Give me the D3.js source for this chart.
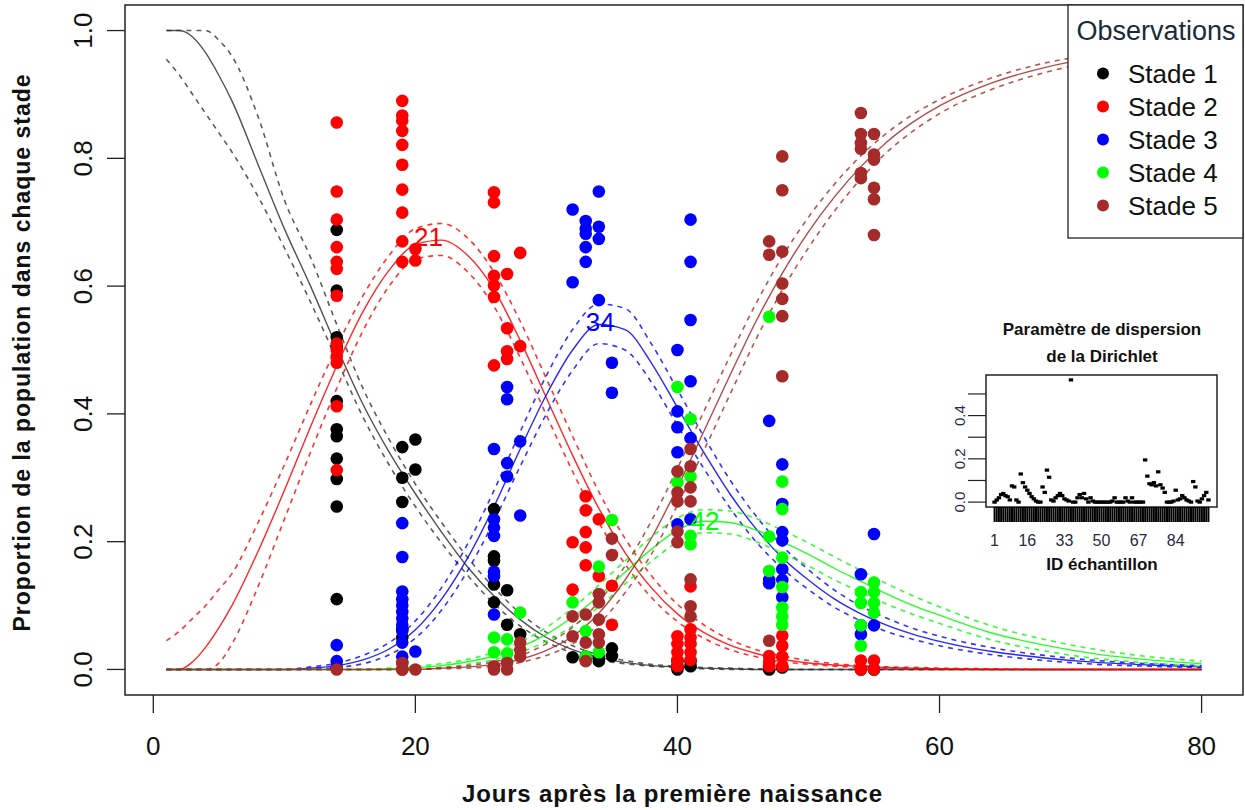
<!DOCTYPE html>
<html>
<head>
<meta charset="utf-8">
<script src="https://d3js.org/d3.v7.min.js"></script>
<style>
  html, body { margin: 0; padding: 0; background: #fff; }
  svg text { font-family: "Liberation Sans", Arial, sans-serif; fill: #111; }
</style>
</head>
<body>
<svg id="chart" width="1245" height="810"></svg>
<script>
// ---- data ----
var stageNames = ["Stade 1", "Stade 2", "Stade 3", "Stade 4", "Stade 5"];
var stageColors = ["#000000", "#FF0000", "#0000FF", "#00FF00", "#A52A2A"];
var xTicks = [0, 20, 40, 60, 80];
var yTicks = [0, 0.2, 0.4, 0.6, 0.8, 1.0];

// days at which the fitted curves were read
var curveDays = [1,2,3,4,5,6,8,10,12,14,16,18,20,22,24,26,28,30,32,34,36,38,40,42,44,46,48,50,52,54,56,58,60,64,68,72,76,80];

var fit1 = [1,1,0.99,0.965,0.93,0.89,0.79,0.69,0.6,0.505,0.415,0.34,0.275,0.215,0.16,0.115,0.078,0.05,0.031,0.019,0.011,0.006,0.004,0.002,0.001,0,0,0,0,0,0,0,0,0,0,0,0,0];
var hi1  = [1,1,1,1,0.985,0.96,0.865,0.735,0.645,0.54,0.44,0.36,0.29,0.23,0.175,0.128,0.088,0.058,0.037,0.023,0.014,0.008,0.005,0.003,0.002,0.001,0,0,0,0,0,0,0,0,0,0,0,0];
var lo1  = [0.955,0.93,0.9,0.87,0.84,0.81,0.74,0.66,0.575,0.485,0.395,0.32,0.255,0.198,0.147,0.103,0.068,0.043,0.026,0.015,0.009,0.005,0.003,0.001,0,0,0,0,0,0,0,0,0,0,0,0,0,0];

var fit2 = [0,0,0.012,0.035,0.065,0.1,0.185,0.28,0.38,0.475,0.56,0.625,0.665,0.672,0.648,0.595,0.515,0.425,0.335,0.252,0.183,0.128,0.087,0.058,0.038,0.025,0.016,0.01,0.007,0.005,0.003,0.002,0.001,0,0,0,0,0];
var hi2  = [0.045,0.06,0.08,0.1,0.125,0.15,0.23,0.32,0.415,0.505,0.585,0.648,0.69,0.698,0.675,0.622,0.545,0.455,0.365,0.278,0.205,0.147,0.102,0.07,0.047,0.031,0.021,0.014,0.009,0.006,0.004,0.003,0.002,0.001,0,0,0,0];
var lo2  = [0,0,0,0,0.01,0.04,0.13,0.235,0.34,0.44,0.53,0.6,0.642,0.648,0.622,0.568,0.488,0.398,0.31,0.23,0.165,0.113,0.075,0.049,0.031,0.02,0.012,0.008,0.005,0.003,0.002,0.001,0,0,0,0,0,0];

var fit3 = [0,0,0,0,0,0,0,0,0.002,0.006,0.015,0.032,0.062,0.11,0.175,0.255,0.345,0.43,0.5,0.54,0.532,0.48,0.41,0.34,0.275,0.22,0.175,0.14,0.11,0.087,0.069,0.055,0.044,0.028,0.018,0.011,0.007,0.004];
var hi3  = [0,0,0,0,0,0,0,0,0.004,0.01,0.022,0.042,0.076,0.128,0.197,0.28,0.372,0.46,0.532,0.572,0.565,0.51,0.438,0.365,0.297,0.24,0.193,0.156,0.124,0.099,0.08,0.064,0.052,0.034,0.022,0.014,0.009,0.006];
var lo3  = [0,0,0,0,0,0,0,0,0.001,0.003,0.009,0.023,0.049,0.093,0.155,0.232,0.318,0.4,0.468,0.51,0.5,0.45,0.382,0.315,0.253,0.2,0.158,0.125,0.097,0.076,0.059,0.047,0.037,0.023,0.014,0.008,0.005,0.003];

var fit4 = [0,0,0,0,0,0,0,0,0,0,0,0.001,0.003,0.006,0.012,0.021,0.035,0.055,0.082,0.115,0.152,0.188,0.218,0.232,0.23,0.218,0.2,0.18,0.158,0.138,0.118,0.1,0.085,0.057,0.038,0.024,0.015,0.009];
var hi4  = [0,0,0,0,0,0,0,0,0,0,0,0.002,0.005,0.009,0.016,0.027,0.043,0.066,0.096,0.132,0.17,0.207,0.237,0.25,0.248,0.236,0.218,0.198,0.176,0.155,0.134,0.115,0.098,0.068,0.047,0.031,0.02,0.013];
var lo4  = [0,0,0,0,0,0,0,0,0,0,0,0,0.001,0.003,0.008,0.015,0.027,0.044,0.068,0.098,0.134,0.169,0.199,0.214,0.212,0.2,0.182,0.162,0.14,0.121,0.102,0.086,0.072,0.046,0.029,0.017,0.01,0.005];

var fit5 = [0,0,0,0,0,0,0,0,0,0,0,0,0,0.002,0.004,0.008,0.016,0.03,0.052,0.088,0.14,0.205,0.285,0.372,0.46,0.545,0.62,0.685,0.74,0.787,0.826,0.857,0.882,0.918,0.942,0.958,0.968,0.975];
var hi5  = [0,0,0,0,0,0,0,0,0,0,0,0,0,0.003,0.006,0.012,0.022,0.04,0.066,0.106,0.162,0.232,0.315,0.403,0.49,0.573,0.646,0.708,0.76,0.804,0.84,0.869,0.892,0.926,0.949,0.963,0.973,0.98];
var lo5  = [0,0,0,0,0,0,0,0,0,0,0,0,0,0.001,0.002,0.005,0.011,0.022,0.04,0.071,0.12,0.18,0.257,0.342,0.43,0.517,0.594,0.66,0.718,0.768,0.81,0.843,0.87,0.908,0.934,0.952,0.963,0.97];

// peak labels [day, value, text]
var peakLabels = [[21, 0.677, "21"], [34.1, 0.544, "34"], [42.1, 0.232, "42"]];

// observations [day, proportion]
var obs1 = [[14,0.688],[14,0.593],[14,0.52],[14,0.505],[14,0.42],[14,0.376],[14,0.365],[14,0.33],[14,0.298],[14,0.255],[14,0.11],
  [19,0.348],[19,0.3],[19,0.262],[19,0.063],[19,0.05],[20,0.36],[20,0.313],
  [26,0.251],[26,0.177],[26,0.17],[26,0.133],[26,0.105],[27,0.124],[27,0.07],[28,0.055],
  [32,0.019],[33,0.015],[33,0.02],[34,0.013],[34,0.02],[35,0.033],[35,0.021],
  [40,0.013],[40,0.005],[40,0],[41,0.013],[41,0.005],[47,0.005],[47,0],[48,0.003],[54,0],[55,0]];
var obs2 = [[14,0.856],[14,0.748],[14,0.704],[14,0.661],[14,0.638],[14,0.627],[14,0.585],[14,0.51],[14,0.5],[14,0.49],[14,0.48],[14,0.412],[14,0.312],
  [19,0.89],[19,0.867],[19,0.859],[19,0.843],[19,0.821],[19,0.79],[19,0.751],[19,0.715],[19,0.67],[19,0.638],[19,0.01],[19,0],[20,0.658],[20,0.64],
  [26,0.747],[26,0.731],[26,0.647],[26,0.616],[26,0.601],[26,0.583],[26,0.476],[27,0.619],[27,0.534],[27,0.498],[27,0.486],[28,0.652],[28,0.506],
  [32,0.199],[32,0.125],[33,0.271],[33,0.249],[33,0.215],[33,0.191],[33,0.163],[34,0.235],[34,0.146],[35,0.131],[35,0.07],
  [40,0.052],[40,0.04],[40,0.027],[40,0.015],[40,0.005],[41,0.13],[41,0.063],[41,0.05],[41,0.04],[41,0.027],[41,0.015],
  [47,0.021],[47,0.012],[47,0.005],[48,0.053],[48,0.037],[48,0.02],[48,0.005],[54,0.014],[54,0],[55,0.014],[55,0]];
var obs3 = [[14,0.038],[14,0.013],[14,0.003],
  [19,0.229],[19,0.176],[19,0.122],[19,0.11],[19,0.1],[19,0.09],[19,0.08],[19,0.07],[19,0.06],[19,0.042],[19,0.02],[20,0.028],
  [26,0.345],[26,0.235],[26,0.222],[26,0.209],[26,0.153],[26,0.146],[26,0.086],[27,0.442],[27,0.423],[27,0.323],[27,0.302],[28,0.357],[28,0.241],
  [32,0.72],[32,0.606],[33,0.702],[33,0.69],[33,0.682],[33,0.661],[33,0.638],[34,0.748],[34,0.693],[34,0.674],[34,0.578],[35,0.48],[35,0.433],
  [40,0.5],[40,0.404],[40,0.379],[40,0.34],[40,0.227],[41,0.704],[41,0.638],[41,0.547],[41,0.451],[41,0.362],[41,0.235],
  [47,0.389],[47,0.14],[47,0.135],[48,0.321],[48,0.259],[48,0.215],[48,0.202],[48,0.157],[48,0.14],[48,0.113],
  [54,0.149],[54,0.069],[54,0.055],[55,0.212],[55,0.069]];
var obs4 = [[26,0.05],[26,0.027],[27,0.047],[27,0.025],[27,0.012],[28,0.089],[32,0.105],[33,0.06],[33,0.02],[34,0.161],[34,0.027],[35,0.234],
  [40,0.442],[40,0.293],[41,0.392],[41,0.302],[41,0.209],[41,0.196],
  [47,0.552],[47,0.208],[47,0.154],[48,0.294],[48,0.251],[48,0.175],[48,0.129],[48,0.097],[48,0.083],[48,0.07],
  [54,0.121],[54,0.104],[54,0.069],[54,0.037],[55,0.136],[55,0.121],[55,0.104],[55,0.089]];
var obs5 = [[14,0],[19,0.01],[19,0],[20,0],[26,0.005],[26,0],[27,0.01],[27,0],[28,0.042],[28,0.031],[28,0.02],
  [32,0.083],[32,0.052],[33,0.086],[33,0.042],[33,0.013],[34,0.118],[34,0.105],[34,0.078],[34,0.055],[34,0.042],[35,0.205],[35,0.179],
  [40,0.31],[40,0.277],[40,0.263],[40,0.216],[40,0.199],[41,0.345],[41,0.318],[41,0.285],[41,0.263],[41,0.141],[41,0.099],[41,0.083],
  [47,0.67],[47,0.649],[47,0.045],[48,0.803],[48,0.75],[48,0.654],[48,0.604],[48,0.58],[48,0.553],[48,0.459],
  [54,0.871],[54,0.838],[54,0.824],[54,0.815],[54,0.777],[54,0.769],[55,0.838],[55,0.806],[55,0.798],[55,0.754],[55,0.736],[55,0.68]];

// inset: Dirichlet dispersion per sample (ID 1..99)
var dispersion = [0,0.01,0.02,0.035,0.04,0.03,0.025,0.01,0.075,0.07,0.01,0,0.13,0.09,0.07,0.055,0.04,0.025,0.015,0.005,
  0,0,0.07,0.045,0.148,0.115,0.01,0.005,0.02,0.03,0.04,0.03,0.015,0.01,0.005,0.565,0,0,0.02,0.035,
  0.02,0.04,0.015,0,0.02,0.005,0,0,0,0,0,0,0,0,0.005,0.02,0,0,0,0,
  0.02,0.005,0,0.02,0,0,0,0,0,0.195,0.12,0.085,0.08,0.09,0.075,0.14,0.08,0.065,0.045,0,
  0,0,0.005,0.055,0.01,0.015,0.03,0.02,0.01,0.005,0,0.095,0.07,0.005,0,0.015,0.03,0.045,0.01];
var insetXLabels = [1, 16, 33, 50, 67, 84];
var insetYTicks = [0, 0.1, 0.2, 0.3, 0.4, 0.5];
var insetYLabels = [0, 0.2, 0.4];

// ---- drawing ----
var svg = d3.select("#chart");
var plotLeft = 125, plotRight = 1243, plotTop = 5, plotBottom = 695;

var x = d3.scaleLinear().domain([-2.16, 83.16]).range([plotLeft, plotRight]);
var y = d3.scaleLinear().domain([-0.04, 1.04]).range([plotBottom, plotTop]);

var curves = [
  {fit: fit1, lo: lo1, hi: hi1},
  {fit: fit2, lo: lo2, hi: hi2},
  {fit: fit3, lo: lo3, hi: hi3},
  {fit: fit4, lo: lo4, hi: hi4},
  {fit: fit5, lo: lo5, hi: hi5}
];
var observations = [obs1, obs2, obs3, obs4, obs5];

var line = d3.line()
  .x(function(d) { return x(d[0]); })
  .y(function(d) { return y(d[1]); })
  .curve(d3.curveMonotoneX);

function pairs(vals) {
  return curveDays.map(function(d, i) { return [d, vals[i]]; });
}

var plot = svg.append("g");

curves.forEach(function(c, i) {
  var col = i === 0 ? "#333" : stageColors[i];
  ["lo", "hi"].forEach(function(k) {
    plot.append("path")
      .attr("d", line(pairs(c[k])))
      .attr("fill", "none")
      .attr("stroke", col)
      .attr("stroke-width", 1.6)
      .attr("stroke-dasharray", "5,5")
      .attr("opacity", 0.8);
  });
  plot.append("path")
    .attr("d", line(pairs(c.fit)))
    .attr("fill", "none")
    .attr("stroke", col)
    .attr("stroke-width", 1.4)
    .attr("opacity", 0.85);
});

observations.forEach(function(obs, i) {
  plot.selectAll(null)
    .data(obs)
    .enter().append("circle")
    .attr("cx", function(d) { return x(d[0]); })
    .attr("cy", function(d) { return y(d[1]); })
    .attr("r", 6.3)
    .attr("fill", stageColors[i]);
});

// peak labels
var peakCols = [stageColors[1], stageColors[2], stageColors[3]];
peakLabels.forEach(function(p, i) {
  svg.append("text")
    .attr("x", x(p[0]))
    .attr("y", y(p[1]) + 9)
    .attr("text-anchor", "middle")
    .style("font-size", "26px")
    .style("fill", peakCols[i])
    .text(p[2]);
});

// box
svg.append("rect")
  .attr("x", plotLeft).attr("y", plotTop)
  .attr("width", plotRight - plotLeft).attr("height", plotBottom - plotTop)
  .attr("fill", "none").attr("stroke", "#222").attr("stroke-width", 1.5);

// x axis
var gx = svg.append("g");
gx.selectAll(null).data(xTicks).enter().append("line")
  .attr("x1", function(d) { return x(d); }).attr("x2", function(d) { return x(d); })
  .attr("y1", plotBottom).attr("y2", plotBottom + 18)
  .attr("stroke", "#222").attr("stroke-width", 1.3);
gx.selectAll(null).data(xTicks).enter().append("text")
  .attr("x", function(d) { return x(d); })
  .attr("y", 755)
  .attr("text-anchor", "middle")
  .style("font-size", "26px")
  .text(function(d) { return d; });
svg.append("text")
  .attr("x", 672).attr("y", 802)
  .attr("text-anchor", "middle")
  .attr("textLength", 420)
  .style("font-size", "24px").style("font-weight", "bold")
  .text("Jours après la première naissance");

// y axis
var gy = svg.append("g");
gy.selectAll(null).data(yTicks).enter().append("line")
  .attr("x1", plotLeft).attr("x2", plotLeft - 18)
  .attr("y1", function(d) { return y(d); }).attr("y2", function(d) { return y(d); })
  .attr("stroke", "#222").attr("stroke-width", 1.3);
gy.selectAll(null).data(yTicks).enter().append("text")
  .attr("transform", function(d) { return "translate(92," + y(d) + ") rotate(-90)"; })
  .attr("text-anchor", "middle")
  .style("font-size", "26px")
  .text(function(d) { return d.toFixed(1); });
svg.append("text")
  .attr("transform", "translate(30,353) rotate(-90)")
  .attr("text-anchor", "middle")
  .attr("textLength", 557)
  .style("font-size", "23px").style("font-weight", "bold")
  .text("Proportion de la population dans chaque stade");

// legend
var lg = svg.append("g");
lg.append("rect")
  .attr("x", 1068).attr("y", 5).attr("width", 175).attr("height", 233)
  .attr("fill", "#fff").attr("stroke", "#222").attr("stroke-width", 1.3);
lg.append("text")
  .attr("x", 1156).attr("y", 40)
  .attr("text-anchor", "middle")
  .style("font-size", "27px")
  .style("fill", "#1a2a3a")
  .text("Observations");
stageNames.forEach(function(name, i) {
  var cy = 73.5 + i * 33;
  lg.append("circle").attr("cx", 1103).attr("cy", cy).attr("r", 6).attr("fill", stageColors[i]);
  lg.append("text").attr("x", 1128).attr("y", cy + 9.5)
    .style("font-size", "26px").text(name);
});

// inset
var ix = d3.scaleLinear().domain([-2.92, 102.92]).range([986, 1217]);
var iy = d3.scaleLinear().domain([-0.0226, 0.5876]).range([507, 375]);
var ins = svg.append("g");
ins.append("rect")
  .attr("x", 986).attr("y", 375).attr("width", 231).attr("height", 132)
  .attr("fill", "#fff").attr("stroke", "#222").attr("stroke-width", 1.5);
ins.selectAll(null).data(dispersion).enter().append("rect")
  .attr("x", function(d, i) { return ix(i + 1) - 2.2; })
  .attr("y", function(d) { return iy(d) - 1.6; })
  .attr("width", 4.4).attr("height", 3.2)
  .attr("fill", "#000");
ins.selectAll(null).data(d3.range(1, dispersion.length + 1)).enter().append("line")
  .attr("x1", function(d) { return ix(d); }).attr("x2", function(d) { return ix(d); })
  .attr("y1", 507).attr("y2", 522)
  .attr("stroke", "#000").attr("stroke-width", 2);
ins.selectAll(null).data(insetXLabels).enter().append("text")
  .attr("x", function(d) { return ix(d); })
  .attr("y", 546)
  .attr("text-anchor", "middle")
  .style("font-size", "16px")
  .style("fill", "#2a2a40")
  .text(function(d) { return d; });
ins.selectAll(null).data(insetYTicks).enter().append("line")
  .attr("x1", 986).attr("x2", 968)
  .attr("y1", function(d) { return iy(d); }).attr("y2", function(d) { return iy(d); })
  .attr("stroke", "#222").attr("stroke-width", 1.2);
ins.selectAll(null).data(insetYLabels).enter().append("text")
  .attr("transform", function(d) { return "translate(965," + iy(d) + ") rotate(-90)"; })
  .attr("text-anchor", "middle")
  .style("font-size", "15px")
  .style("fill", "#2a2a50")
  .text(function(d) { return d.toFixed(1); });
ins.append("text").attr("x", 1102).attr("y", 335).attr("text-anchor", "middle")
  .style("font-size", "17px").style("font-weight", "bold").text("Paramètre de dispersion");
ins.append("text").attr("x", 1102).attr("y", 362).attr("text-anchor", "middle")
  .style("font-size", "17px").style("font-weight", "bold").text("de la Dirichlet");
ins.append("text").attr("x", 1102).attr("y", 570).attr("text-anchor", "middle")
  .style("font-size", "17px").style("font-weight", "bold").text("ID échantillon");
</script>
</body>
</html>
